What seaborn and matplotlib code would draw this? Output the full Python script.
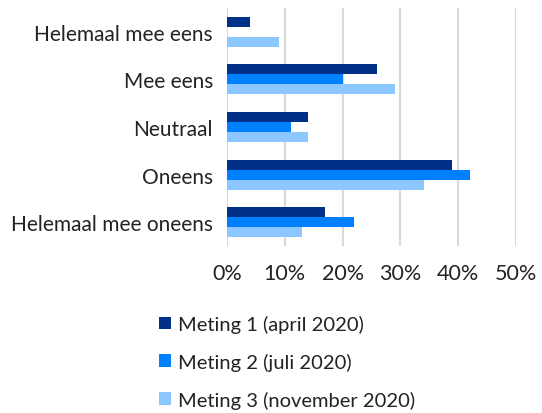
import numpy as np
import pandas as pd
import matplotlib
matplotlib.use('Agg')
import matplotlib.pyplot as plt
from matplotlib.patches import Patch
import seaborn as sns

# Data
categories = ['Helemaal mee eens', 'Mee eens', 'Neutraal', 'Oneens', 'Helemaal mee oneens']
meting_1 = [4, 26, 14, 39, 17]
meting_2 = [0, 20, 11, 42, 22]
meting_3 = [9, 29, 14, 34, 13]
series = ['Meting 1 (april 2020)', 'Meting 2 (juli 2020)', 'Meting 3 (november 2020)']
colors = ['#003087', '#0080FF', '#8CC8FF']

df = pd.DataFrame({
    'categorie': categories * 3,
    'waarde': np.array(meting_1 + meting_2 + meting_3) / 100,
    'meting': np.repeat(series, len(categories)),
})

sns.set_style('white')
plt.rcParams['font.family'] = ['Lato', 'DejaVu Sans']

fig = plt.figure(figsize=(5.42, 4.14), dpi=100)
ax = fig.add_axes([227 / 542, 1 - 247 / 414, 289 / 542, 238 / 414])

sns.barplot(data=df, y='categorie', x='waarde', hue='meting', order=categories,
            hue_order=series, palette=colors, width=0.63, orient='h', ax=ax,
            legend=False, saturation=1, linewidth=0)

ax.set_xlim(0, 0.5)
ax.set_xticks(np.arange(0, 0.51, 0.1))
ax.set_xticklabels([f'{int(round(t * 100))}%' for t in np.arange(0, 0.51, 0.1)])
ax.grid(axis='x', color='#d9d9d9', linewidth=1.5)
ax.set_axisbelow(True)
for s in ax.spines.values():
    s.set_visible(False)
ax.set_xlabel('')
ax.set_ylabel('')
ax.tick_params(axis='x', labelsize=15.5, pad=12, length=0, colors='#222222')
ax.tick_params(axis='y', labelsize=15, pad=10, length=0, colors='#222222')

handles = [Patch(facecolor=c, edgecolor='none') for c in colors]
fig.legend(handles, series, loc='upper left', bbox_to_anchor=(149 / 542, 1 - 306 / 414),
           frameon=False, fontsize=14.5, handlelength=0.6, handleheight=0.6,
           handletextpad=0.35, labelspacing=0.98, borderpad=0, labelcolor='#222222')

fig.savefig('out.png', dpi=100)
